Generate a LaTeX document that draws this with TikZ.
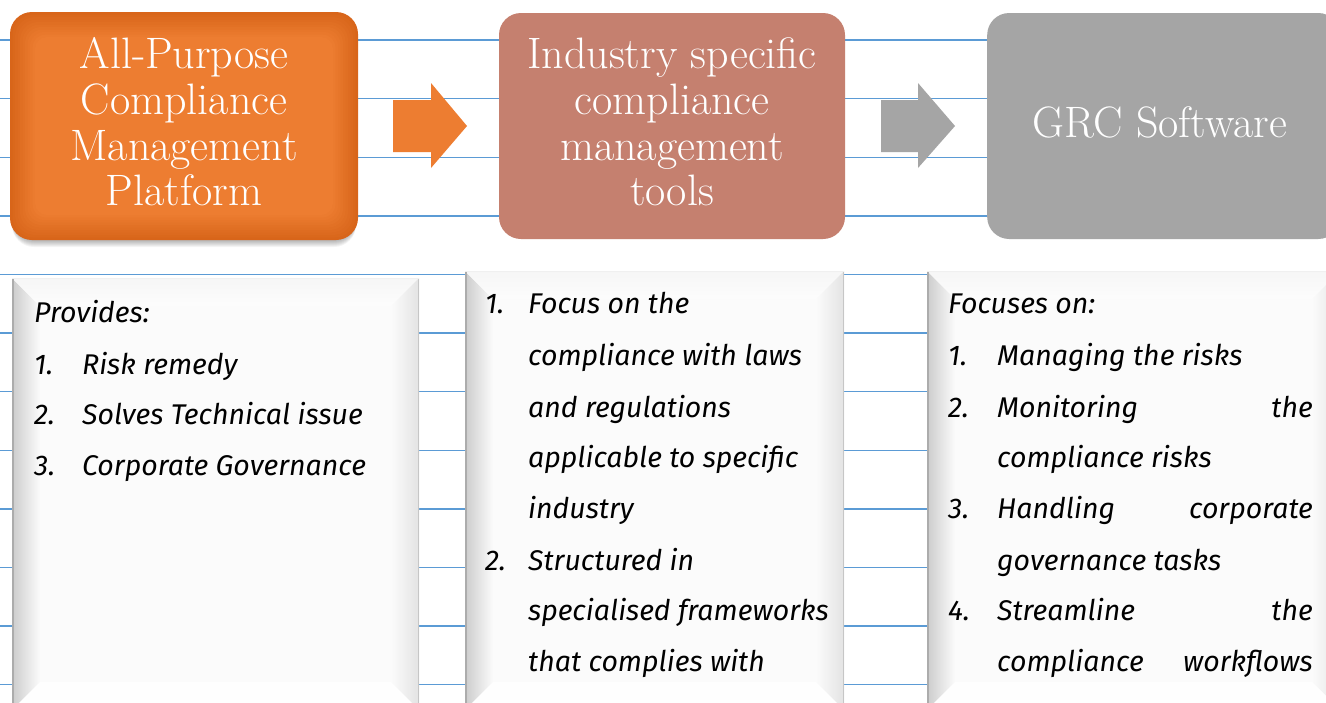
\documentclass[tikz,border=0pt]{standalone}
\usepackage{fontspec}
\newfontfamily\hand{Fira Sans}
\definecolor{bline}{HTML}{5B9BD5}
\definecolor{orng}{HTML}{ED7D31}
\definecolor{orngD}{HTML}{D8651A}
\definecolor{salm}{HTML}{C5806F}
\definecolor{grc}{HTML}{A5A5A5}
\newcommand\bvbox[4]{%
 \fill[gray!3] (#1,#2) rectangle (#3,#4);
 \shade[left color=gray!40, right color=gray!3] (#1,#2) -- (#1+28,#2+28) -- (#1+28,#4-28) -- (#1,#4) -- cycle;
 \shade[top color=gray!7, bottom color=gray!2] (#1,#2) -- (#3,#2) -- (#3-28,#2+28) -- (#1+28,#2+28) -- cycle;
 \shade[left color=gray!3, right color=gray!22] (#3,#2) -- (#3,#4) -- (#3-28,#4-28) -- (#3-28,#2+28) -- cycle;
 \shade[top color=gray!1, bottom color=white] (#1,#4) -- (#3,#4) -- (#3-28,#4-28) -- (#1+28,#4-28) -- cycle;
 \draw[gray!65, line width=2.5] (#1+1.2,#2) -- (#1+1.2,#4);
 \draw[gray!45, line width=1.2] (#3-0.6,#2) -- (#3-0.6,#4);
 \draw[gray!12, line width=0.8] (#1,#2+0.4) -- (#3,#2+0.4);
}
\begin{document}
\begin{tikzpicture}[x=1pt,y=-1pt,
  topbox/.style={rectangle,rounded corners=22,minimum width=#1,minimum height=226,inner sep=0},
  toptext/.style={text=white,font=\fontsize{44}{45.6}\selectfont,inner sep=0,anchor=base},
  hw/.style={font=\hand\itshape\fontsize{28.5}{30}\selectfont,inner sep=0,anchor=base west},
  hwr/.style={hw,anchor=base east}]
\useasboundingbox (0,0) rectangle (1326,702);
\fill[white] (0,0) rectangle (1326,702);
% ruled lines
\foreach \k in {0,...,11} \draw[bline,line width=1.4] (0,40+58.6*\k) -- (1326,40+58.6*\k);
% orange box: shadow and bevel
\foreach \i in {0,...,6} \fill[black,opacity=0.045,rounded corners=22] (12,18+\i) rectangle (356,241+\i);
\foreach \i in {0,...,10} {\pgfmathtruncatemacro\m{\i*10}
  \fill[orng!\m!orngD, rounded corners=22-\i] (10+2.5*\i,12+2.5*\i) rectangle (358-2.5*\i,240-2.5*\i);}
\node[topbox=348,minimum height=228] (a) at (184,126) {};
\node[toptext] (a1) at (184,68) {All-Purpose};
\node[toptext] (a2) at (184,114) {Compliance};
\node[toptext] (a3) at (184,160) {Management};
\node[toptext] (a4) at (184,205) {Platform};
% salmon box
\node[topbox=346,fill=salm] (b) at (672,126) {};
\node[toptext] (b1) at (672,68) {Industry specific};
\node[toptext] (b2) at (672,114) {compliance};
\node[toptext] (b3) at (672,160) {management};
\node[toptext] (b4) at (672,205) {tools};
% grey box
\node[topbox=353,fill=grc,anchor=west] (c) at (987,126) {};
\node[toptext] (ct) at (1160,137) {GRC Software};
% block arrows
\fill[orng] (393,100) -- (431,100) -- (431,83) -- (467,126) -- (431,168) -- (431,152) -- (393,152) -- cycle;
\fill[grc] (881,100) -- (918,100) -- (918,83) -- (955,126) -- (918,168) -- (918,152) -- (881,152) -- cycle;
% bottom boxes
\bvbox{12}{278}{419}{710}
\bvbox{465}{271}{844}{710}
\bvbox{927}{271}{1340}{710}
% left text
\node[hw] (l0) at (34,322) {Provides:};
\node[hw] (l1n) at (34,374) {1.}; \node[hw] (l1) at (82,374) {Risk remedy};
\node[hw] (l2n) at (34,424) {2.}; \node[hw] (l2) at (82,424) {Solves Technical issue};
\node[hw] (l3n) at (34,475) {3.}; \node[hw] (l3) at (82,475) {Corporate Governance};
% middle text
\node[hw] (m1n) at (485,313) {1.}; \node[hw] (m1) at (528,313) {Focus on the};
\node[hw] (m2) at (528,365) {compliance with laws};
\node[hw] (m3) at (528,417) {and regulations};
\node[hw] (m4) at (528,467) {applicable to specific};
\node[hw] (m5) at (528,518) {industry};
\node[hw] (m6n) at (485,570) {2.}; \node[hw] (m6) at (528,570) {Structured in};
\node[hw] (m7) at (528,620) {specialised frameworks};
\node[hw] (m8) at (528,671) {that complies with};
% right text
\node[hw] (r0) at (948,313) {Focuses on:};
\node[hw] (r1n) at (948,365) {1.}; \node[hw] (r1) at (997,365) {Managing the risks};
\node[hw] (r2n) at (948,417) {2.}; \node[hw] (r2) at (997,417) {Monitoring}; \node[hwr] (r2b) at (1313,417) {the};
\node[hw] (r3) at (997,467) {compliance risks};
\node[hw] (r4n) at (948,518) {3.}; \node[hw] (r4) at (997,518) {Handling}; \node[hwr] (r4b) at (1313,518) {corporate};
\node[hw] (r5) at (997,570) {governance tasks};
\node[hw] (r6n) at (948,620) {4.}; \node[hw] (r6) at (997,620) {Streamline}; \node[hwr] (r6b) at (1313,620) {the};
\node[hw] (r7) at (997,671) {compliance}; \node[hwr] (r7b) at (1313,671) {workflows};
\end{tikzpicture}
\end{document}
